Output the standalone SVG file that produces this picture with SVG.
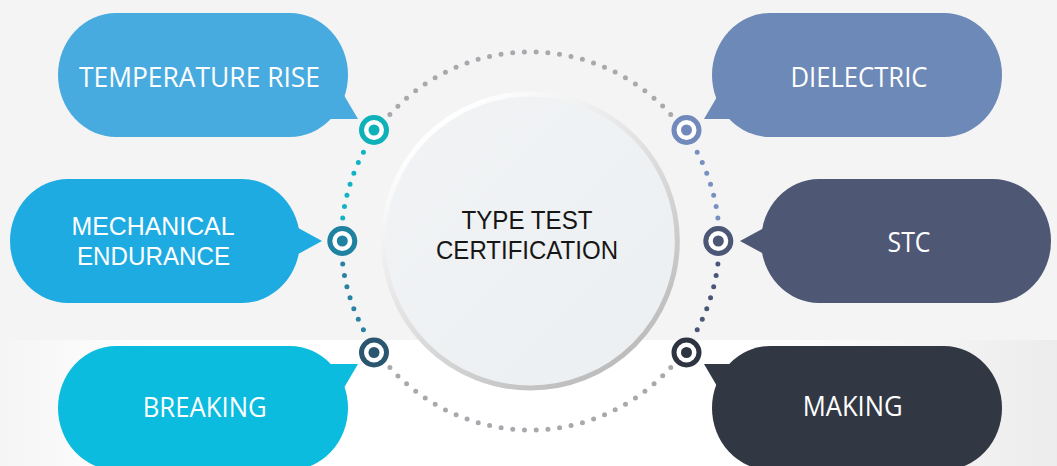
<svg xmlns="http://www.w3.org/2000/svg" width="1057" height="466" viewBox="0 0 1057 466">
<defs>
<linearGradient id="bgBottom" x1="0" y1="0" x2="1" y2="0">
<stop offset="0" stop-color="#f5f5f5"/>
<stop offset="0.15" stop-color="#ffffff"/>
<stop offset="0.72" stop-color="#ffffff"/>
<stop offset="1" stop-color="#ececec"/>
</linearGradient>
<linearGradient id="ringGrad" x1="0.2" y1="0.1" x2="0.8" y2="0.9">
<stop offset="0" stop-color="#ffffff"/>
<stop offset="0.45" stop-color="#e2e2e2"/>
<stop offset="1" stop-color="#bdbdbd"/>
</linearGradient>
<linearGradient id="discGrad" x1="0" y1="0" x2="1" y2="1">
<stop offset="0" stop-color="#f1f3f5"/>
<stop offset="1" stop-color="#eceff1"/>
</linearGradient>
</defs>
<style>
.lbl{font-family:"Open Sans","Liberation Sans",sans-serif;font-size:28px;fill:#ffffff;text-anchor:middle}
.lbl2{font-family:"Liberation Sans",Arial,sans-serif;font-size:26px;fill:#ffffff;text-anchor:middle}
.ctr{font-family:"Liberation Sans",Arial,sans-serif;font-size:26px;fill:#161616;text-anchor:middle}
.dots{fill:none;stroke-width:5;stroke-linecap:round}
.ring{fill:#ffffff;stroke-width:5}
</style>
<rect x="0" y="0" width="1057" height="466" fill="#f4f4f4"/>
<rect x="0" y="340" width="1057" height="126" fill="url(#bgBottom)"/>

<g id="connectors">
<path class="dots" stroke="#a9a9ad" stroke-dasharray="0 11.72" d="M389.85,114.54 A189,189 0 0 1 670.75,114.54"/>
<path class="dots" stroke="#a9a9ad" stroke-dasharray="0 11.72" d="M670.75,367.46 A189,189 0 0 1 389.85,367.46"/>
<path class="dots" stroke="#12b3c4" stroke-dasharray="0 11.53" d="M363.43,152.27 A189,189 0 0 0 342.71,217.97"/>
<path class="dots" stroke="#2a82a3" stroke-dasharray="0 11.53" d="M342.71,264.03 A189,189 0 0 0 363.43,329.73"/>
<path class="dots" stroke="#7890bf" stroke-dasharray="0 11.53" d="M697.17,152.27 A189,189 0 0 1 717.89,217.97"/>
<path class="dots" stroke="#4a5677" stroke-dasharray="0 11.53" d="M717.89,264.03 A189,189 0 0 1 697.17,329.73"/>
</g>

<g id="center">
<circle cx="530.3" cy="241" r="147" fill="url(#discGrad)" stroke="url(#ringGrad)" stroke-width="5"/>
<text class="ctr" x="527" y="228.5" textLength="131" lengthAdjust="spacingAndGlyphs">TYPE TEST</text>
<text class="ctr" x="527" y="258.5" textLength="182" lengthAdjust="spacingAndGlyphs">CERTIFICATION</text>
</g>

<g id="temperature-rise">
<rect x="58" y="13" width="290" height="124" rx="58" ry="62" fill="#48abe0"/>
<polygon points="343,93.6 358,119 328,119" fill="#48abe0"/>
<text class="lbl" x="199.5" y="87" textLength="241" lengthAdjust="spacingAndGlyphs">TEMPERATURE RISE</text>
</g>

<g id="dielectric">
<rect x="712" y="13" width="290" height="124" rx="58" ry="62" fill="#6d89b7"/>
<polygon points="719,93.6 704,119 734,119" fill="#6d89b7"/>
<text class="lbl" x="859" y="86.7" textLength="137" lengthAdjust="spacingAndGlyphs">DIELECTRIC</text>
</g>

<g id="mechanical-endurance">
<rect x="10" y="179" width="290" height="124" rx="58" ry="62" fill="#1eabe2"/>
<polygon points="292,224.6 322,241 292,257.4" fill="#1eabe2"/>
<text class="lbl2" x="153" y="234.8" textLength="163" lengthAdjust="spacingAndGlyphs">MECHANICAL</text>
<text class="lbl2" x="153.5" y="264.8" textLength="153" lengthAdjust="spacingAndGlyphs">ENDURANCE</text>
</g>

<g id="stc">
<rect x="761" y="179" width="290" height="124" rx="58" ry="62" fill="#4e5875"/>
<polygon points="770,224.6 740,241 770,257.4" fill="#4e5875"/>
<text class="lbl" x="909" y="251.7" textLength="43" lengthAdjust="spacingAndGlyphs">STC</text>
</g>

<g id="breaking">
<rect x="58" y="346" width="290" height="124" rx="58" ry="62" fill="#0bbcdf"/>
<polygon points="343,389.4 358,364 328,364" fill="#0bbcdf"/>
<text class="lbl" x="204.7" y="416.7" textLength="124" lengthAdjust="spacingAndGlyphs">BREAKING</text>
</g>

<g id="making">
<rect x="712" y="346" width="290" height="124" rx="58" ry="62" fill="#313843"/>
<polygon points="719,389.4 704,364 734,364" fill="#313843"/>
<text class="lbl" x="852.7" y="416" textLength="100" lengthAdjust="spacingAndGlyphs">MAKING</text>
</g>

<g id="marker-tl"><circle class="ring" cx="374" cy="130" r="12.5" stroke="#0fb1b9"/><circle cx="374" cy="130" r="5.5" fill="#0fb1b9"/></g>
<g id="marker-ml"><circle class="ring" cx="342.3" cy="241" r="12.5" stroke="#1f82a0"/><circle cx="342.3" cy="241" r="5.5" fill="#1f82a0"/></g>
<g id="marker-bl"><circle class="ring" cx="374" cy="352.5" r="12.5" stroke="#2b5670"/><circle cx="374" cy="352.5" r="5.5" fill="#2b5670"/></g>
<g id="marker-tr"><circle class="ring" cx="686.5" cy="130" r="12.5" stroke="#7189bb"/><circle cx="686.5" cy="130" r="5.5" fill="#7189bb"/></g>
<g id="marker-mr"><circle class="ring" cx="718.3" cy="241" r="12.5" stroke="#4c5675"/><circle cx="718.3" cy="241" r="5.5" fill="#4c5675"/></g>
<g id="marker-br"><circle class="ring" cx="686.5" cy="352.5" r="12.5" stroke="#2e3440"/><circle cx="686.5" cy="352.5" r="5.5" fill="#2e3440"/></g>
</svg>
